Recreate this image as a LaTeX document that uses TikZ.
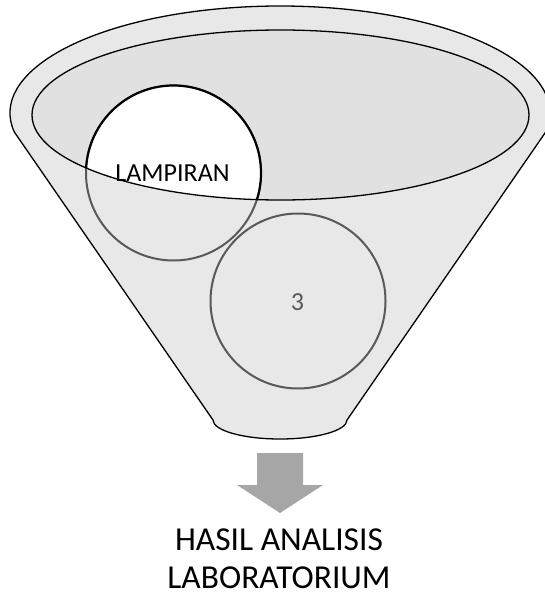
\documentclass[tikz,border=0pt]{standalone}
\usepackage{fontspec}
\setmainfont{Carlito}
\definecolor{funnelfill}{HTML}{E8E8E8}
\definecolor{mouthfill}{HTML}{E1E1E1}
\definecolor{ringgrey}{HTML}{595959}
\definecolor{arrowgrey}{HTML}{A6A6A6}
\tikzset{
  funnelline/.style={draw=black, line width=1.3pt},
  ball/.style={circle, minimum size=175pt, inner sep=0pt},
  greyring/.style={draw=ringgrey, line width=2pt},
  blackring/.style={draw=black, line width=2.2pt},
  label/.style={inner sep=0pt, anchor=base},
}
\begin{document}
\begin{tikzpicture}[x=1pt,y=1pt]
\useasboundingbox (0,0) rectangle (544,-596);

% funnel body: wide elliptic rim, straight sides, rounded spout
\path[fill=funnelfill, funnelline]
  (280,-113) ++(190.2:270pt and 107pt)
  arc[start angle=190.2, end angle=-10.2, x radius=270pt, y radius=107pt]
  -- (347,-420)
  arc[start angle=360, end angle=180, x radius=67pt, y radius=19pt]
  -- cycle;

% mouth of the funnel
\coordinate (mouth) at (280.5,-115);
\fill[mouthfill] (mouth) ellipse[x radius=248.5pt, y radius=85pt];

% balls inside the funnel
\node[ball, greyring] (lamp) at (173.5,-173) {};
\node[ball, greyring] (three) at (298,-301) {};
\begin{scope}
  \clip (mouth) ellipse[x radius=248.5pt, y radius=85pt];
  \node[ball, blackring, fill=white] at (lamp.center) {};
\end{scope}
\draw[funnelline] (mouth) ellipse[x radius=248.5pt, y radius=85pt];

\node[label, font=\fontsize{26}{30}\selectfont] (lamptext) at (172.5,-181) {LAMPIRAN};
\node[label, font=\fontsize{26}{30}\selectfont, text=ringgrey] (threetext) at (297.5,-310) {3};

% output arrow
\fill[arrowgrey] (257,-453) -- (303,-453) -- (303,-485) -- (323,-485)
  -- (280,-513) -- (237,-485) -- (257,-485) -- cycle;

\node[inner sep=0pt, anchor=north, align=center,
      font=\fontsize{33.5}{38}\selectfont] (result) at (279,-529)
  {HASIL ANALISIS\\LABORATORIUM};
\end{tikzpicture}
\end{document}
